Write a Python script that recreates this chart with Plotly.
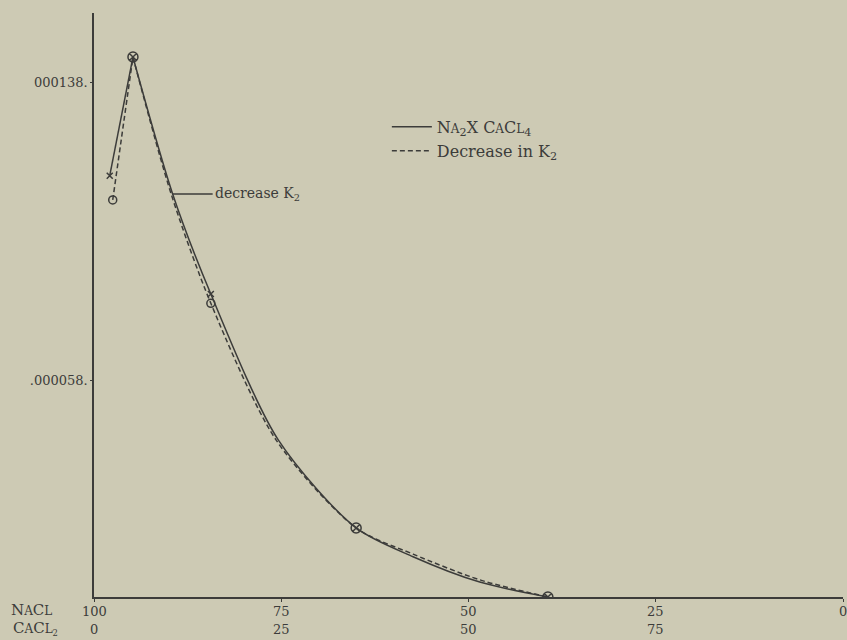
import plotly.graph_objects as go

# x: CaCl2 percent (NaCl = 100 - x); y: values in units of 1e-6
# Solid curve  (Na2X CaCl4)
solid_rise_x = [2.1, 5.2]
solid_rise_y = [112.9, 144.7]
solid_fall_x = [5.2, 10.5, 15.6, 24.6, 35.0, 42.6, 51.5, 60.6]
solid_fall_y = [144.7, 108.0, 81.2, 42.1, 18.5, 10.8, 4.0, 0.0]
# Dashed curve (Decrease in K2)
dash_rise_x = [2.5, 5.2]
dash_rise_y = [106.4, 144.7]
dash_fall_x = [5.2, 10.3, 15.6, 24.3, 35.0, 42.6, 51.5, 60.6]
dash_fall_y = [144.7, 108.0, 78.7, 42.1, 18.5, 11.5, 4.6, 0.0]

# observed points
cross_x = [2.1, 15.6]
cross_y = [112.9, 81.2]
ring_x = [2.5, 15.6]
ring_y = [106.4, 78.7]
common_x = [5.2, 35.0, 60.6]
common_y = [144.7, 18.5, 0.0]

# tick labels
tick_pos = [0, 25, 50, 75, 100]
nacl_labels = ["100", "75", "50", "25", "0"]
cacl2_labels = ["0", "25", "50", "75"]
ytick_vals = [58, 138]
ytick_text = [".000058.", "000138."]

INK = "#3c3c3a"
BG = "#cdcab4"
FONT = "DejaVu Serif"

def sc(t, size):
    return "<span style='font-size:%dpx'>%s</span>" % (size, t)

fig = go.Figure()
fig.add_trace(go.Scatter(x=solid_rise_x, y=solid_rise_y, mode="lines",
                         line=dict(color=INK, width=1.5), legendgroup="a",
                         showlegend=False))
fig.add_trace(go.Scatter(x=solid_fall_x, y=solid_fall_y, mode="lines",
                         line=dict(color=INK, width=1.5, shape="spline", smoothing=0.8),
                         legendgroup="a",
                         name="N" + sc("A", 12) + "<sub>2</sub>X C" + sc("A", 12) + "C" + sc("L", 12) + "<sub>4</sub>"))
fig.add_trace(go.Scatter(x=dash_rise_x, y=dash_rise_y, mode="lines",
                         line=dict(color=INK, width=1.5, dash="5px,3px"), legendgroup="b",
                         showlegend=False))
fig.add_trace(go.Scatter(x=dash_fall_x, y=dash_fall_y, mode="lines",
                         line=dict(color=INK, width=1.5, dash="5px,3px", shape="spline", smoothing=0.8),
                         legendgroup="b", name="Decrease in K<sub>2</sub>"))
fig.add_trace(go.Scatter(x=cross_x, y=cross_y, mode="markers", showlegend=False,
                         marker=dict(symbol="x-thin-open", size=6, color=INK, line=dict(color=INK, width=1.5))))
fig.add_trace(go.Scatter(x=ring_x, y=ring_y, mode="markers", showlegend=False,
                         marker=dict(symbol="circle-open", size=8, color=INK, line=dict(color=INK, width=1.5))))
fig.add_trace(go.Scatter(x=common_x, y=common_y, mode="markers", showlegend=False,
                         marker=dict(symbol="circle-x-open", size=10, color=INK, line=dict(color=INK, width=1.5))))

ann = []
for p, t in zip(tick_pos, nacl_labels):
    ann.append(dict(x=p, y=0, xref="x", yref="paper", text=t, showarrow=False,
                    yanchor="middle", yshift=-14, font=dict(size=13, color=INK, family=FONT)))
for p, t in zip(tick_pos, cacl2_labels):
    ann.append(dict(x=p, y=0, xref="x", yref="paper", text=t, showarrow=False,
                    yanchor="middle", yshift=-32, font=dict(size=13, color=INK, family=FONT)))
ann.append(dict(x=0, y=0, xref="paper", yref="paper", xanchor="left", yanchor="middle",
                text="N" + sc("A", 12) + "C" + sc("L", 12),
                showarrow=False, xshift=-85, yshift=-13, font=dict(size=15, color=INK, family=FONT)))
ann.append(dict(x=0, y=0, xref="paper", yref="paper", xanchor="left", yanchor="middle",
                text="C" + sc("A", 12) + "C" + sc("L", 12) + sc("<sub>2</sub>", 12),
                showarrow=False, xshift=-83, yshift=-31, font=dict(size=15, color=INK, family=FONT)))
ann.append(dict(x=solid_fall_x[1], y=solid_fall_y[1], xref="x", yref="y",
                text="decrease K<sub>2</sub>", showarrow=True, arrowhead=0, arrowwidth=1.3,
                arrowcolor=INK, ax=40, ay=0, xanchor="left", standoff=0,
                font=dict(size=14, color=INK, family=FONT)))

fig.update_layout(
    width=847, height=640,
    margin=dict(l=94, r=4, t=13, b=43),
    paper_bgcolor=BG, plot_bgcolor=BG,
    font=dict(family=FONT, color=INK),
    annotations=ann,
    legend=dict(x=0.391, y=0.834, xanchor="left", yanchor="top", bgcolor="rgba(0,0,0,0)",
                font=dict(size=16, color=INK, family=FONT), tracegroupgap=0,
                itemwidth=40),
    xaxis=dict(range=[0, 100], showgrid=False, zeroline=False, showline=True,
               linecolor=INK, linewidth=1.5, tickvals=tick_pos, showticklabels=False,
               ticks="outside", ticklen=3, tickcolor=INK),
    yaxis=dict(range=[0, 156.5], showgrid=False, zeroline=False, showline=True,
               linecolor=INK, linewidth=1.5, tickvals=ytick_vals, ticktext=ytick_text,
               ticks="outside", ticklen=2, tickcolor=INK,
               tickfont=dict(size=13, color=INK, family=FONT)),
    showlegend=True,
)
fig.write_html("out.html", config={"displayModeBar": False},
               post_script="document.body.style.margin='0';document.body.style.background='" + BG + "';")
